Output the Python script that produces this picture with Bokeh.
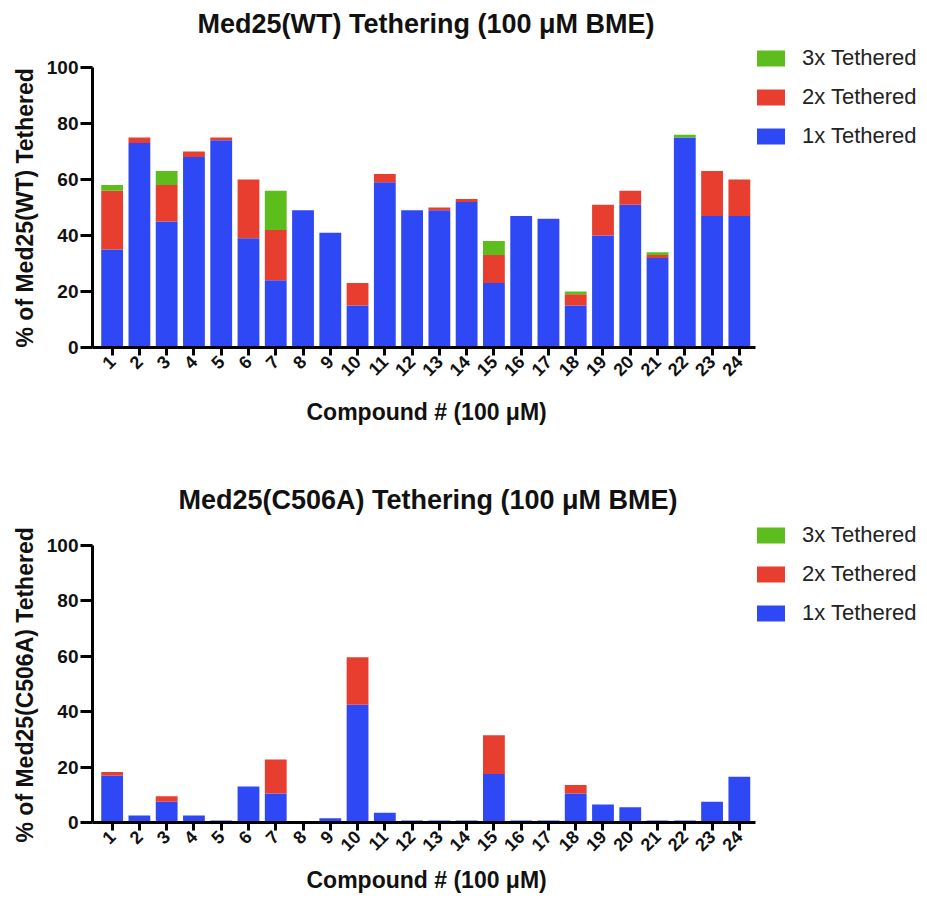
import math
from bokeh.plotting import figure
from bokeh.models import ColumnDataSource, FixedTicker, Range1d, Legend, LegendItem, Title
from bokeh.layouts import column
from bokeh.embed import file_html
from bokeh.resources import INLINE

# ---------------- data ----------------
compounds = [1, 2, 3, 4, 5, 6, 7, 8, 9, 10, 11, 12,
             13, 14, 15, 16, 17, 18, 19, 20, 21, 22, 23, 24]
compound_labels = ["1", "2", "3", "4", "5", "6", "7", "8", "9", "10", "11", "12",
                   "13", "14", "15", "16", "17", "18", "19", "20", "21", "22", "23", "24"]
y_ticks = [0, 20, 40, 60, 80, 100]
series_labels = ["1x Tethered", "2x Tethered", "3x Tethered"]

wt_1x = [35, 73, 45, 68, 74, 39, 24, 49, 41, 15, 59, 49,
         49, 52, 23, 47, 46, 15, 40, 51, 32, 75, 47, 47]
wt_2x = [21, 2, 13, 2, 1, 21, 18, 0, 0, 8, 3, 0,
         1, 1, 10, 0, 0, 4, 11, 5, 1, 0, 16, 13]
wt_3x = [2, 0, 5, 0, 0, 0, 14, 0, 0, 0, 0, 0,
         0, 0, 5, 0, 0, 1, 0, 0, 1, 1, 0, 0]

mut_1x = [17, 2.5, 7.5, 2.5, 0.7, 13, 10.5, 0, 1.5, 42.5, 3.5, 0.7,
          0.7, 0.7, 17.5, 0.7, 0.7, 10.5, 6.5, 5.5, 0.7, 0.7, 7.5, 16.5]
mut_2x = [1.2, 0, 2, 0, 0, 0, 12.2, 0, 0, 17.2, 0, 0,
          0, 0, 14, 0, 0, 3, 0, 0, 0, 0, 0, 0]
mut_3x = [0, 0, 0, 0, 0, 0, 0, 0, 0, 0, 0, 0,
          0, 0, 0, 0, 0, 0, 0, 0, 0, 0, 0, 0]

BLUE = "#2f48f5"
RED = "#e83e30"
GREEN = "#5cbd1c"
COLORS = [BLUE, RED, GREEN]
FONT = "Liberation Sans"
X_AXIS_BOUNDS = (0.28, 24.59)
Y_AXIS_BOUNDS = (0, 100)
X_LABEL = "Compound # (100 \u03bcM)"


def bold_title(text, size, standoff, offset, align="left"):
    return Title(text=text, text_font=FONT, text_font_size=size, text_font_style="bold",
                 text_color="#111111", align=align, offset=offset, standoff=standoff)


def make_chart(title, ylabel, one, two, three, height, y_end, mbt, mbb,
               title_offset, title_standoff, ylabel_offset, xlabel_standoff, legend_vy):
    p = figure(width=927, height=height,
               x_range=Range1d(0.28, 30.90), y_range=Range1d(0, y_end),
               output_backend="svg", toolbar_location=None,
               min_border_left=92, min_border_right=0,
               min_border_top=mbt, min_border_bottom=mbb)
    p.add_layout(bold_title(title, "27px", title_standoff, title_offset), "above")

    src = ColumnDataSource(dict(x=compounds, one=one, two=two, three=three))
    rs = p.vbar_stack(["one", "two", "three"], x="x", width=0.8,
                      fill_color=COLORS, line_color=None, source=src)

    p.xgrid.visible = False
    p.ygrid.visible = False
    p.outline_line_color = None

    for ax in (p.xaxis[0], p.yaxis[0]):
        ax.axis_line_width = 3
        ax.axis_line_color = "black"
        ax.major_tick_line_width = 3
        ax.major_tick_line_color = "black"
        ax.major_tick_in = 0
        ax.minor_tick_line_color = None
        ax.major_label_text_font = FONT
        ax.major_label_text_font_style = "bold"
        ax.major_label_text_color = "#111111"

    xa = p.xaxis[0]
    xa.bounds = X_AXIS_BOUNDS
    xa.ticker = FixedTicker(ticks=compounds)
    xa.major_label_overrides = {c: lab for c, lab in zip(compounds, compound_labels)}
    xa.major_label_orientation = math.pi / 4
    xa.major_label_text_font_size = "18px"
    xa.major_tick_out = 8
    xa.major_label_standoff = 3

    ya = p.yaxis[0]
    ya.bounds = Y_AXIS_BOUNDS
    ya.ticker = FixedTicker(ticks=y_ticks)
    ya.major_label_text_font_size = "19px"
    ya.major_tick_out = 12
    ya.major_label_standoff = 2

    # axis titles, aligned on the 0..100 / compound 1..24 span of the axes
    p.add_layout(bold_title(X_LABEL, "23px", xlabel_standoff, 214), "below")
    p.add_layout(bold_title(ylabel, "23px", 12, ylabel_offset), "left")

    legend = Legend(items=[LegendItem(label=series_labels[2], renderers=[rs[2]]),
                           LegendItem(label=series_labels[1], renderers=[rs[1]]),
                           LegendItem(label=series_labels[0], renderers=[rs[0]])],
                    location=(661, legend_vy), padding=0, margin=0,
                    border_line_color=None, background_fill_alpha=0,
                    glyph_width=35, glyph_height=20, label_height=20,
                    label_standoff=14, spacing=13,
                    label_text_font=FONT, label_text_font_size="22px",
                    label_text_color="#222222")
    p.add_layout(legend, "center")
    return p


H1 = 470
H2 = 902 - H1

# top chart: frame 43..347 px, value 100 at 67 px
p1 = make_chart("Med25(WT) Tethering (100 \u03bcM BME)", "% of Med25(WT) Tethered",
                wt_1x, wt_2x, wt_3x, H1, 108.57, 43, H1 - 347,
                105, 10, 0, 24, 198)
# bottom chart: frame 519..822 px, value 100 at 545 px
p2 = make_chart("Med25(C506A) Tethering (100 \u03bcM BME)", "% of Med25(C506A) Tethered",
                mut_1x, mut_2x, mut_3x, H2, 109.39, 519 - H1, 80,
                86, 10, -20, 10, 196)

layout = column(p1, p2, spacing=0)
open("out.html", "w").write(file_html(layout, INLINE))
